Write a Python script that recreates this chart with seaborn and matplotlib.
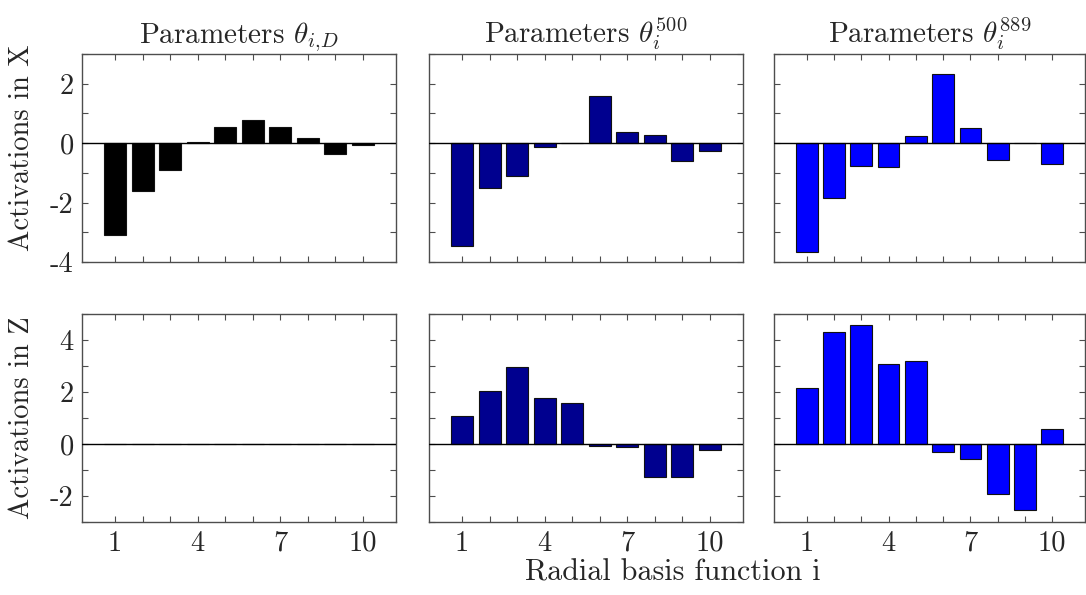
import numpy as np
import pandas as pd
import matplotlib
matplotlib.use("Agg")
import matplotlib.pyplot as plt
import seaborn as sns
from matplotlib.ticker import FixedLocator

# ---- data ----
basis = [1, 2, 3, 4, 5, 6, 7, 8, 9, 10]
x_demo = [-3.09, -1.61, -0.90, 0.05, 0.55, 0.79, 0.56, 0.18, -0.35, -0.05]
x_500 = [-3.47, -1.50, -1.12, -0.12, 0.01, 1.60, 0.39, 0.28, -0.60, -0.25]
x_889 = [-3.66, -1.86, -0.78, -0.81, 0.23, 2.34, 0.50, -0.57, 0.01, -0.69]
z_demo = [0.0, 0.0, 0.0, 0.0, 0.0, 0.0, 0.0, 0.0, 0.0, 0.0]
z_500 = [1.09, 2.04, 2.98, 1.78, 1.56, -0.06, -0.10, -1.28, -1.26, -0.22]
z_889 = [2.17, 4.31, 4.59, 3.06, 3.21, -0.29, -0.56, -1.94, -2.54, 0.58]

titles = [r"Parameters $\theta_{i,\!D}$", r"Parameters $\theta_i^{500}$", r"Parameters $\theta_i^{889}$"]
row_labels = ["Activations in X", "Activations in Z"]
xtick_labels = ["1", "4", "7", "10"]
xlabel = "Radial basis function i"
colors = ["#000000", "#00008F", "#0000FF"]

sns.set_style("ticks")
plt.rcParams["font.family"] = ["serif"]
plt.rcParams["font.serif"] = ["cmr10", "DejaVu Serif"]
plt.rcParams["mathtext.fontset"] = "cm"
plt.rcParams["axes.unicode_minus"] = False
plt.rcParams["axes.formatter.use_mathtext"] = True

fig = plt.figure(figsize=(10.86, 5.95), dpi=100)
W, H = 1086.0, 595.0
cols_px = [(82, 396), (429, 743), (774, 1085)]
rows_px = [(54, 262), (314, 522)]
ylims = [(-4, 3), (-3, 5)]
yticklab = [[-4, -2, 0, 2], [-2, 0, 2, 4]]
label_y = [0.55, 0.50]

data = [[x_demo, x_500, x_889], [z_demo, z_500, z_889]]

spine_c = "#4d4d4d"
for r in range(2):
    for c in range(3):
        x0, x1 = cols_px[c]
        y0, y1 = rows_px[r]
        ax = fig.add_axes([x0 / W, 1 - y1 / H, (x1 - x0) / W, (y1 - y0) / H])
        df = pd.DataFrame({"basis": basis, "value": data[r][c]})
        sns.barplot(data=df, x="basis", y="value", native_scale=True, ax=ax,
                    color=colors[c], saturation=1, width=0.8,
                    edgecolor="#111111", linewidth=0.8)
        ax.axhline(0, color="black", lw=1.0, zorder=3)
        ax.set_xlim(-0.2, 11.2)
        ax.set_ylim(*ylims[r])
        ax.set_xlabel("")
        ax.set_ylabel("")
        for s in ax.spines.values():
            s.set_visible(True)
            s.set_color(spine_c)
            s.set_linewidth(1.0)
        ax.xaxis.set_major_locator(FixedLocator([1, 4, 7, 10]))
        ax.xaxis.set_minor_locator(FixedLocator([2, 3, 5, 6, 8, 9]))
        lo, hi = ylims[r]
        ax.yaxis.set_major_locator(FixedLocator(yticklab[r]))
        ax.yaxis.set_minor_locator(FixedLocator([v for v in range(lo, hi + 1) if v not in yticklab[r]]))
        ax.tick_params(which="both", direction="in", top=True, right=True,
                       length=4, width=0.8, color=spine_c, labelsize=20.5, pad=6)
        if r == 0:
            ax.set_xticklabels([])
            ax.set_title(titles[c], fontsize=21, pad=8)
        else:
            ax.set_xticklabels(xtick_labels)
        if c == 0:
            ax.set_yticklabels([str(v) for v in yticklab[r]])
            ax.set_ylabel(row_labels[r], fontsize=20.5)
            ax.yaxis.set_label_coords(-0.15, label_y[r])
        else:
            ax.set_yticklabels([])

fig.text(673 / W, 1 - 573 / H, xlabel, ha="center", va="center", fontsize=21.7)
fig.savefig("out.png", dpi=100)
